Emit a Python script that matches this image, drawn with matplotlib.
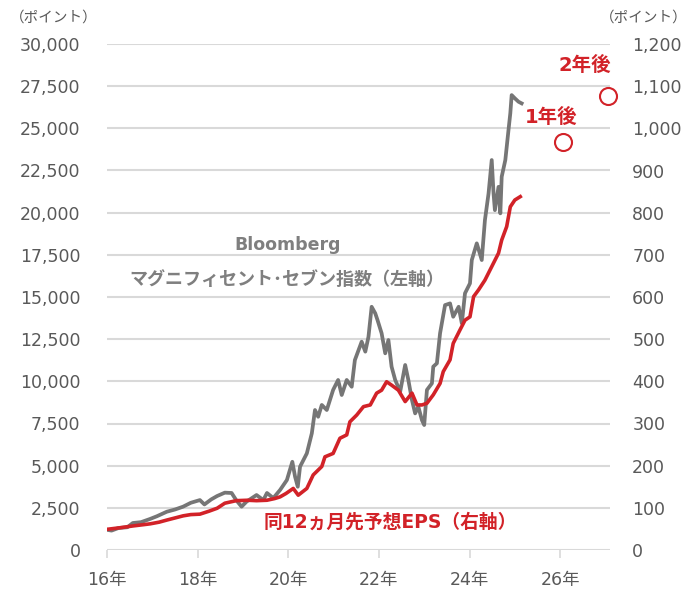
import matplotlib
matplotlib.use("Agg")
import matplotlib.pyplot as plt
from matplotlib.ticker import FuncFormatter

plt.rcParams['font.family'] = ['DejaVu Sans', 'Noto Sans CJK JP']

# ---- data (decimal years, 16 = 2016) ----
idx_x = [16.00, 16.10, 16.25, 16.45, 16.57, 16.75, 16.95, 17.10, 17.32, 17.50,
         17.68, 17.85, 18.05, 18.15, 18.30, 18.43, 18.60, 18.75, 18.85, 18.97,
         19.08, 19.30, 19.45, 19.53, 19.67, 19.82, 19.97, 20.09, 20.15, 20.21,
         20.26, 20.41, 20.52, 20.59, 20.66, 20.74, 20.85, 20.99, 21.10, 21.18,
         21.29, 21.40, 21.47, 21.62, 21.70, 21.77, 21.84, 21.92, 21.97, 22.06,
         22.14, 22.21, 22.28, 22.36, 22.47, 22.58, 22.65, 22.73, 22.80, 22.87,
         22.95, 23.00, 23.06, 23.17, 23.20, 23.28, 23.35, 23.46, 23.57, 23.64,
         23.76, 23.83, 23.90, 24.01, 24.05, 24.16, 24.27, 24.34, 24.42, 24.49,
         24.53, 24.56, 24.64, 24.68, 24.71, 24.79, 24.86, 24.90, 24.93, 25.00,
         25.08, 25.15]
idx_v = [1200, 1150, 1300, 1350, 1600, 1650, 1840, 2000, 2270, 2400,
         2570, 2800, 2960, 2700, 3000, 3200, 3400, 3380, 2960, 2570,
         2870, 3260, 2960, 3380, 3080, 3560, 4150, 5230, 4350, 3750,
         4940, 5730, 6920, 8300, 7900, 8600, 8300, 9490, 10080, 9190,
         10080, 9680, 11260, 12350, 11760, 12640, 14420, 14030, 13630, 12850,
         11660, 12450, 10870, 10080, 9390, 10970, 10080, 8890, 8100, 8500,
         7700, 7410, 9490, 9880, 10870, 11070, 12850, 14520, 14620, 13830,
         14420, 13440, 15220, 15810, 17190, 18180, 17190, 19560, 21140, 23120,
         21140, 20150, 21530, 19960, 22130, 23120, 24900, 25890, 26970, 26780,
         26580, 26480]

eps_x = [16.00, 16.30, 16.57, 16.80, 16.95, 17.15, 17.32, 17.50, 17.68, 17.85,
         18.05, 18.25, 18.43, 18.60, 18.85, 19.10, 19.30, 19.53, 19.70, 19.82,
         19.95, 20.11, 20.22, 20.41, 20.55, 20.74, 20.81, 20.99, 21.14, 21.29,
         21.36, 21.51, 21.66, 21.81, 21.95, 22.06, 22.17, 22.28, 22.43, 22.58,
         22.73, 22.84, 22.95, 23.06, 23.20, 23.35, 23.42, 23.57, 23.64, 23.79,
         23.90, 24.01, 24.09, 24.20, 24.34, 24.49, 24.64, 24.71, 24.82, 24.90,
         25.00, 25.12]
eps_v = [49, 53, 57, 60, 62, 66, 71, 76, 81, 84,
         85, 92, 99, 111, 117, 118, 117, 118, 122, 126,
         134, 146, 130, 146, 178, 198, 221, 229, 265, 273,
         304, 320, 340, 344, 372, 379, 399, 391, 379, 352,
         372, 344, 344, 348, 368, 395, 423, 451, 490, 522,
         545, 553, 601, 617, 640, 672, 704, 735, 767, 814,
         830, 838]

fcst_x = [26.07, 27.06]
fcst_v = [967, 1077]
fcst_labels = ["1年後", "2年後"]

x_ticks = [16, 18, 20, 22, 24, 26]
x_ticklabels = ["16年", "18年", "20年", "22年", "24年", "26年"]

GRAY = "#767676"
RED = "#D22228"
TXT = "#595959"

fig = plt.figure(figsize=(6.97, 5.91), dpi=100)
ax = fig.add_axes([107/697, 1-550/591, (610-107)/697, (550-44)/591])
ax2 = ax.twinx()

ax.set_xlim(16, 27.1)
ax.set_ylim(0, 30000)
ax2.set_ylim(0, 1200)

ax.set_yticks(range(0, 30001, 2500))
ax2.set_yticks(range(0, 1201, 100))
ax.yaxis.set_major_formatter(FuncFormatter(lambda v, p: f"{int(v):,}"))
ax2.yaxis.set_major_formatter(FuncFormatter(lambda v, p: f"{int(v):,}"))
ax.set_xticks(x_ticks)
ax.set_xticklabels(x_ticklabels)

for a in (ax, ax2):
    for s in a.spines.values():
        s.set_visible(False)
ax.grid(axis='y', color="#D9D9D9", lw=1.5)
ax.set_axisbelow(True)
ax.tick_params(axis='y', length=0, pad=19, labelsize=12.5, labelcolor=TXT)
ax2.tick_params(axis='y', length=0, pad=16, labelsize=12.5, labelcolor=TXT)
ax.tick_params(axis='x', length=6, width=1.2, color="#D9D9D9", pad=9,
               labelsize=12.5, labelcolor=TXT)

ax.plot(idx_x, idx_v, color=GRAY, lw=2.7, solid_joinstyle='round')
ax2.plot(eps_x, eps_v, color=RED, lw=2.6, solid_joinstyle='round')
ax2.scatter(fcst_x, fcst_v, s=150, facecolors='white', edgecolors=RED,
            linewidths=1.5, zorder=5, clip_on=False)

fig.text(551/697, 1-117/591, fcst_labels[0], color=RED, fontsize=14,
         fontweight='bold', ha='center', va='center')
fig.text(585/697, 1-65/591, fcst_labels[1], color=RED, fontsize=14,
         fontweight='bold', ha='center', va='center')

fig.text(288/697, 1-245/591, "Bloomberg", color="#7F7F7F", fontsize=12.5,
         fontweight='bold', ha='center', va='center')
fig.text(287/697, 1-280/591, "マグニフィセント･セブン指数（左軸）", color="#7F7F7F",
         fontsize=13, fontweight='bold', ha='center', va='center')
fig.text(390/697, 1-522/591, "同12ヵ月先予想EPS（右軸）", color=RED,
         fontsize=13.5, fontweight='bold', ha='center', va='center')

fig.text(10/697, 1-17/591, "（ポイント）", color=TXT, fontsize=10.5,
         ha='left', va='center')
fig.text(688/697, 1-17/591, "（ポイント）", color=TXT, fontsize=10.5,
         ha='right', va='center')

fig.savefig("out.png", dpi=100)
